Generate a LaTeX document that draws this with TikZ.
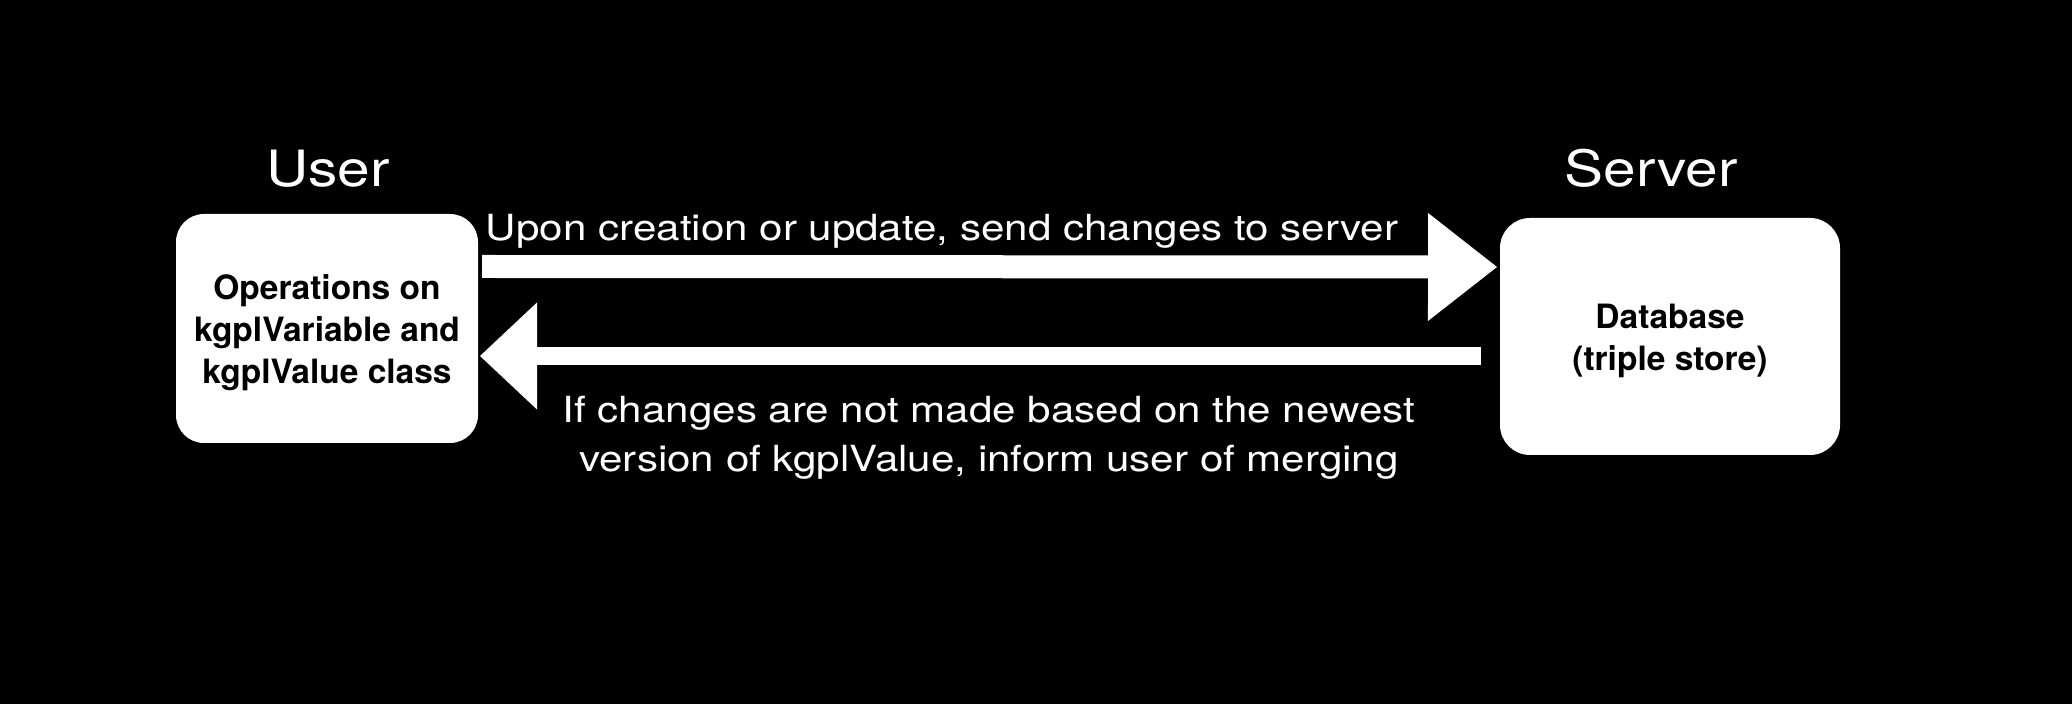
\documentclass[tikz,border=0pt]{standalone}
\usepackage{fontspec}
\setmainfont{TeX Gyre Heros}
\newfontfamily\wfont[FakeStretch=1.17]{TeX Gyre Heros}
\usetikzlibrary{arrows.meta,calc}
\tikzset{
  box/.style={fill=white, draw=none, rounded corners=14pt, inner sep=0pt, outer sep=0pt},
  boxtext/.style={inner sep=0pt, align=center, text=black, font=\bfseries\fontsize{16.75}{21}\selectfont},
  title/.style={text=white, inner sep=0pt, anchor=base, font=\wfont\fontsize{25}{30}\selectfont},
  lbl/.style={text=white, inner sep=0pt, anchor=base, align=center, font=\wfont\fontsize{18}{24.5}\selectfont},
  fwdarrow/.style={draw=white, line width=11.5pt, -{Triangle[length=34.5pt, width=54pt, line width=0pt]}},
  backarrow/.style={draw=white, line width=9pt, -{Triangle[length=28.5pt, width=53.5pt, line width=0pt]}}
}
\begin{document}
\begin{tikzpicture}[x=0.5pt,y=-0.5pt]
\useasboundingbox (0,0) rectangle (2072,704);
\fill[black] (0,0) rectangle (2072,704);

\node[box, minimum width=151pt, minimum height=114.5pt] (user) at (327,328.5) {};
\node[boxtext] (usertext) at ($(user.center)+(0,4.5)$)
  {Operations on\\kgplVariable and\\kgplValue class};
\node[box, minimum width=170pt, minimum height=118.5pt, rounded corners=15pt] (server) at (1670,336.5) {};
\node[boxtext] (servertext) at ($(server.center)+(0,4.5)$) {Database\\(triple store)};

\node[title] (usertitle) at (328,187) {User};
\node[title] (servertitle) at (1651,187) {Server};

\draw[fwdarrow] ($(user.east)+(4,-62)$) coordinate (fs) -- ($(server.west)+(-3,-69.5)$) coordinate (ft);
\draw[backarrow] ($(server.west)+(-19,19.5)$) coordinate (bs) -- ($(user.east)+(2,27.5)$) coordinate (bt);

\node[lbl] (fwdlabel) at (942,241) {Upon creation or update, send changes to server};
\node[lbl] (backlabel) at (989,472) {If changes are not made based on the newest\\version of kgplValue, inform user of merging};
\end{tikzpicture}
\end{document}
